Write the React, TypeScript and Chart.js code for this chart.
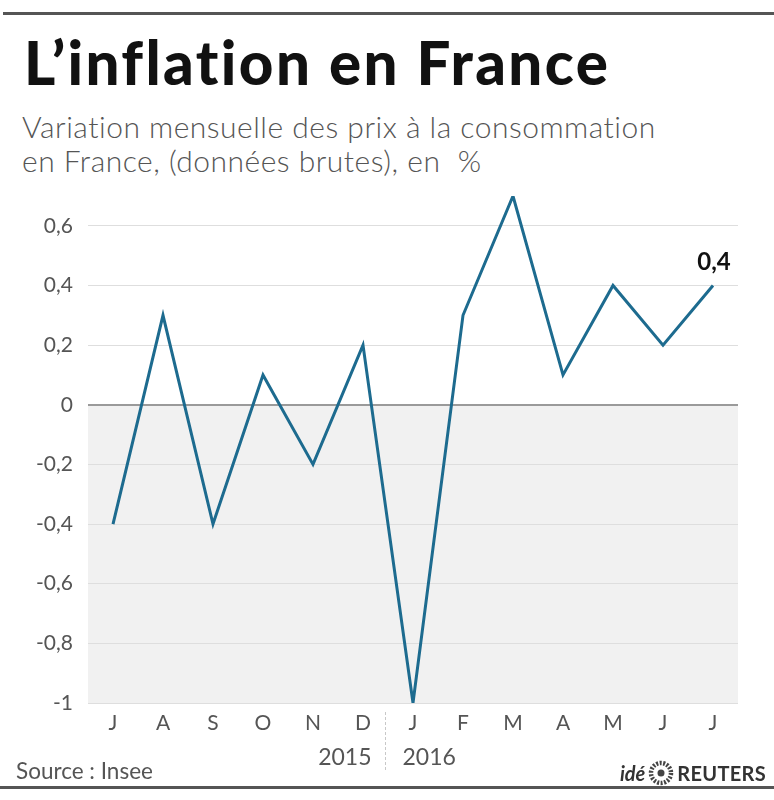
import React, { useEffect, useRef } from "react";
import { Chart, registerables } from "chart.js";
Chart.register(...registerables);

const months = ["J", "A", "S", "O", "N", "D", "J", "F", "M", "A", "M", "J", "J"];
const values = [-0.4, 0.3, -0.4, 0.1, -0.2, 0.2, -1.0, 0.3, 0.7, 0.1, 0.4, 0.2, 0.4];
const yTicks = [-1, -0.8, -0.6, -0.4, -0.2, 0, 0.2, 0.4, 0.6];
const years = ["2015", "2016"];
const yearBreakIndex = 6;
const lastLabel = "0,4";

const fmt = (v: number) => String(Math.round(v * 10) / 10).replace(".", ",");

const decor = {
  id: "decor",
  beforeDraw(chart: any) {
    const { ctx, chartArea, scales } = chart;
    const y0 = scales.y.getPixelForValue(0);
    ctx.save();
    ctx.fillStyle = "#f1f1f1";
    ctx.fillRect(chartArea.left, y0, chartArea.right - chartArea.left, chartArea.bottom - y0);
    ctx.restore();
  },
  afterDraw(chart: any) {
    const { ctx, chartArea, scales } = chart;
    const xs = scales.x;
    const ys = scales.y;
    const divX = Math.round((xs.getPixelForValue(yearBreakIndex - 1) + xs.getPixelForValue(yearBreakIndex)) / 2) - 3 + 0.5;
    ctx.save();
    ctx.strokeStyle = "#c8c8c8";
    ctx.lineWidth = 1;
    ctx.setLineDash([3, 2]);
    ctx.beginPath();
    ctx.moveTo(divX, chartArea.bottom + 9);
    ctx.lineTo(divX, chartArea.bottom + 68);
    ctx.stroke();
    ctx.setLineDash([]);
    ctx.font = "23px Lato, 'Open Sans', sans-serif";
    ctx.fillStyle = "#555";
    ctx.textBaseline = "alphabetic";
    ctx.textAlign = "right";
    ctx.fillText(years[0], divX - 14, chartArea.bottom + 62);
    ctx.textAlign = "left";
    ctx.fillText(years[1], divX + 17, chartArea.bottom + 62);
    const li = values.length - 1;
    const px = xs.getPixelForValue(li);
    const py = ys.getPixelForValue(values[li]);
    ctx.font = "bold 24px Lato, 'Open Sans', sans-serif";
    ctx.fillStyle = "#111";
    ctx.textAlign = "center";
    ctx.fillText(lastLabel, px + 1, py - 15);
    ctx.restore();
  },
};

export default function App() {
  const ref = useRef<HTMLCanvasElement>(null);
  useEffect(() => {
    if (!ref.current) return;
    const chart = new Chart(ref.current, {
      type: "line",
      data: {
        labels: months,
        datasets: [
          {
            data: values,
            borderColor: "#1d6b8f",
            borderWidth: 3,
            pointRadius: 0,
            tension: 0,
            fill: false,
            borderJoinStyle: "miter",
          },
        ],
      },
      options: {
        animation: false,
        responsive: false,
        layout: { padding: { top: 196, right: 36, left: 0, bottom: 0 } },
        plugins: { legend: { display: false }, title: { display: false }, tooltip: { enabled: false } },
        scales: {
          x: {
            type: "category",
            offset: true,
            grid: { display: false, drawTicks: false },
            border: { display: false },
            ticks: { color: "#555", font: { family: "Lato, 'Open Sans', sans-serif", size: 21 }, padding: 8, maxRotation: 0, autoSkip: false },
            afterFit: (s: any) => { s.height = 97; },
          },
          y: {
            min: -1,
            max: 0.7,
            afterBuildTicks: (s: any) => { s.ticks = yTicks.map((v) => ({ value: v })); },
            afterFit: (s: any) => { s.width = 88; },
            grid: {
              drawTicks: false,
              color: (c: any) => (c.tick && c.tick.value === 0 ? "#9a9a9a" : "#dedede"),
              lineWidth: (c: any) => (c.tick && c.tick.value === 0 ? 2 : 1),
            },
            border: { display: false },
            ticks: { color: "#555", font: { family: "Lato, 'Open Sans', sans-serif", size: 21 }, padding: 15, callback: (v: any) => fmt(Number(v)) },
          },
        },
      },
      plugins: [decor],
    } as any);
    return () => chart.destroy();
  }, []);

  return (
    <div style={{ position: "absolute", left: 0, top: 0, width: 774, height: 800, background: "#fff", overflow: "hidden", fontFamily: "Lato, 'Open Sans', sans-serif" }}>
      <div style={{ position: "absolute", left: 3, right: 0, top: 12, height: 3, background: "#555" }} />
      <div style={{ position: "absolute", left: 24, top: 25, fontSize: 60, fontWeight: 900, color: "#111", letterSpacing: 2.4, lineHeight: "74px", whiteSpace: "nowrap" }}>
        L’inflation en France
      </div>
      <div style={{ position: "absolute", left: 22, top: 109, fontSize: 30, fontWeight: 300, color: "#555", letterSpacing: 0.5, lineHeight: "34px", whiteSpace: "nowrap" }}>
        Variation mensuelle des prix à la consommation
        <br />
        en France, (données brutes), en&nbsp; %
      </div>
      <canvas ref={ref} width={774} height={800} style={{ position: "absolute", left: 0, top: 0, width: 774, height: 800 }} />
      <div style={{ position: "absolute", left: 16, top: 757, fontSize: 22.5, color: "#555", whiteSpace: "nowrap", lineHeight: "28px" }}>
        Source : Insee
      </div>
      <div style={{ position: "absolute", right: 8, top: 760, display: "flex", alignItems: "center", gap: 3, color: "#333", whiteSpace: "nowrap", lineHeight: "26px" }}>
        <span style={{ fontStyle: "italic", fontWeight: 700, fontSize: 20 }}>idé</span>
        <svg width="26" height="26" viewBox="0 0 26 26">
          <circle cx="13" cy="13" r="10" fill="none" stroke="#444" strokeWidth="4.5" strokeDasharray="2 1.5" />
          <circle cx="13" cy="13" r="3.5" fill="#444" />
        </svg>
        <span style={{ fontWeight: 700, fontSize: 20, letterSpacing: 0.3 }}>REUTERS</span>
      </div>
      <div style={{ position: "absolute", left: 0, right: 0, top: 786, height: 3, background: "#555" }} />
    </div>
  );
}
